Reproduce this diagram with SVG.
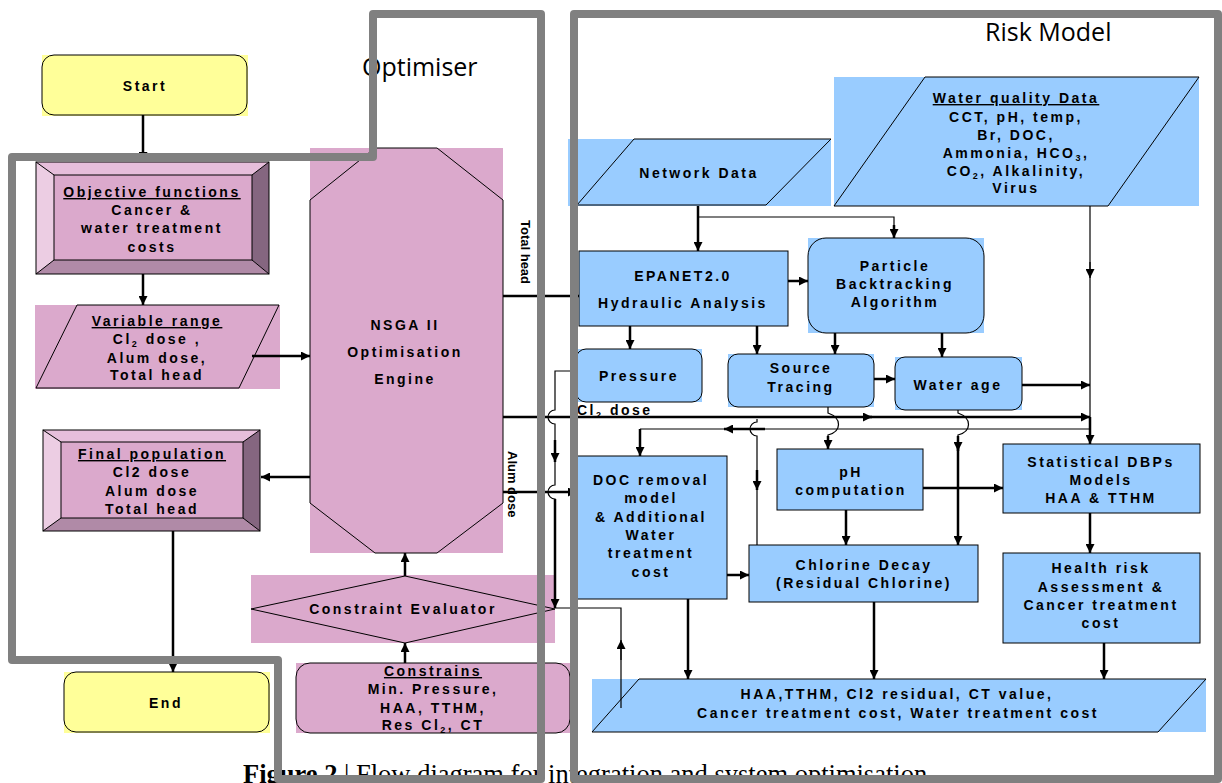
<svg xmlns="http://www.w3.org/2000/svg" width="1222" height="783" viewBox="0 0 1222 783">
<defs>
<marker id="a" viewBox="0 0 10 10" refX="10" refY="5" markerWidth="10" markerHeight="9" markerUnits="userSpaceOnUse" orient="auto"><path d="M0,0 L10,5 L0,10 Z" fill="#000"/></marker>
<marker id="s" viewBox="0 0 10 10" refX="10" refY="5" markerWidth="7" markerHeight="6" markerUnits="userSpaceOnUse" orient="auto"><path d="M0,0 L10,5 L0,10 Z" fill="#000"/></marker>
</defs>
<style>
.t{font-family:"Liberation Sans",Arial,sans-serif;font-weight:bold;font-size:14px;letter-spacing:2.5px;text-anchor:middle;fill:#000}
.u{text-decoration:underline}
.r{font-family:"Liberation Sans",Arial,sans-serif;font-weight:bold;font-size:13px;fill:#000}
.ttl{font-family:"Open Sans","Noto Sans",sans-serif;font-size:25px;fill:#000}
.pk{fill:#DBA9CC}
.bl{fill:#99CCFF}
.yl{fill:#FFFF99}
.ln{stroke:#000;stroke-width:1;}
.k{fill:none;stroke:#000;stroke-width:2.5}
.n{fill:none;stroke:#000;stroke-width:1.2}
.g{fill:none;stroke:#808080;stroke-width:8;stroke-linejoin:round}
</style>
<rect width="1222" height="783" fill="#fff"/>
<text x="243" y="783" font-family="Liberation Serif,serif" font-size="26.5" fill="#000"><tspan font-weight="bold">Figure 2</tspan> | Flow diagram for integration and system optimisation</text>
<text x="362" y="76" class="ttl" font-size="27">Optimiser</text>
<text x="985" y="41" class="ttl" font-size="25.5">Risk Model</text>

<g id="start">
<rect x="42" y="55" width="206" height="61" class="yl"/>
<rect x="42" y="55" width="205" height="60" rx="12" class="yl ln"/>
<text x="145" y="91" class="t">Start</text>
</g>
<g id="objective">
<rect x="36" y="162" width="233" height="112" class="pk"/>
<polygon points="36,162 269,162 252,175 54,175" fill="#E6BEDB"/>
<polygon points="36,162 54,175 54,260 36,274" fill="#ECCDE3"/>
<polygon points="269,162 269,274 252,260 252,175" fill="#856680"/>
<polygon points="36,274 54,260 252,260 269,274" fill="#B08AA7"/>
<rect x="36" y="162" width="233" height="112" fill="none" class="ln"/>
<rect x="54" y="175" width="198" height="85" class="pk ln"/>
<path d="M36 162L54 175M269 162L252 175M36 274L54 260M269 274L252 260" class="ln"/>
<text x="152" y="197" class="t u">Objective  functions</text>
<text x="152" y="215" class="t">Cancer &amp;</text>
<text x="152" y="233" class="t">water treatment</text>
<text x="152" y="252" class="t">costs</text>
</g>
<g id="variable">
<rect x="35" y="305" width="245" height="84" class="pk"/>
<polygon points="77,305 279,305 239,388 36,388" class="pk ln"/>
<text x="157" y="326" class="t u">Variable range</text>
<text x="157" y="344" class="t">Cl<tspan font-size="9" dy="3">2</tspan><tspan dy="-3"> dose ,</tspan></text>
<text x="157" y="363" class="t">Alum dose,</text>
<text x="157" y="380" class="t">Total head</text>
</g>
<g id="final">
<rect x="43" y="430" width="217" height="101" class="pk"/>
<polygon points="43,430 260,430 243,442 61,442" fill="#E6BEDB"/>
<polygon points="43,430 61,442 61,518 43,531" fill="#ECCDE3"/>
<polygon points="260,430 260,531 243,518 243,442" fill="#856680"/>
<polygon points="43,531 61,518 243,518 260,531" fill="#B08AA7"/>
<rect x="43" y="430" width="217" height="101" fill="none" class="ln"/>
<rect x="61" y="442" width="182" height="76" class="pk ln"/>
<path d="M43 430L61 442M260 430L243 442M43 531L61 518M260 531L243 518" class="ln"/>
<text x="152" y="459" class="t u">Final population</text>
<text x="152" y="477" class="t">Cl2 dose</text>
<text x="152" y="496" class="t">Alum dose</text>
<text x="152" y="514" class="t">Total head</text>
</g>
<g id="nsga">
<rect x="310" y="148" width="193" height="405" class="pk"/>
<polygon points="375,148 437,148 503,200 503,503 437,553 375,553 310,503 310,200" class="pk ln"/>
<text x="405" y="330" class="t">NSGA II</text>
<text x="405" y="357" class="t">Optimisation</text>
<text x="405" y="384" class="t">Engine</text>
</g>
<g id="constraint-evaluator">
<rect x="251" y="575" width="304" height="68" class="pk"/>
<polygon points="251,609 405,576 555,609 405,643" class="pk ln"/>
<text x="403" y="614" class="t">Constraint Evaluator</text>
</g>
<g id="constrains">
<rect x="296" y="663" width="274" height="70" class="pk"/>
<rect x="296" y="663" width="274" height="70" rx="14" class="pk ln"/>
<text x="433" y="676" class="t u">Constrains</text>
<text x="433" y="694" class="t">Min. Pressure,</text>
<text x="433" y="713" class="t">HAA, TTHM,</text>
<text x="433" y="730" class="t">Res Cl<tspan font-size="9" dy="3">2</tspan><tspan dy="-3">, CT</tspan></text>
</g>
<g id="end">
<rect x="64" y="672" width="206" height="61" class="yl"/>
<rect x="64" y="672" width="205" height="60" rx="12" class="yl ln"/>
<text x="166" y="708" class="t">End</text>
</g>

<g id="network-data">
<rect x="568" y="139" width="263" height="67" class="bl"/>
<polygon points="634,139 831,139 766,205 577,205" class="bl ln"/>
<text x="699" y="178" class="t">Network Data</text>
</g>
<g id="water-quality">
<rect x="834" y="77" width="365" height="129" class="bl"/>
<polygon points="925,77 1199,77 1108,206 834,206" class="bl ln"/>
<text x="1016" y="103" class="t u">Water quality Data</text>
<text x="1016" y="122" class="t">CCT, pH, temp,</text>
<text x="1016" y="140" class="t">Br, DOC,</text>
<text x="1016" y="158" class="t">Ammonia, HCO<tspan font-size="9" dy="3">3</tspan><tspan dy="-3">,</tspan></text>
<text x="1016" y="176" class="t">CO<tspan font-size="9" dy="3">2</tspan><tspan dy="-3">, Alkalinity,</tspan></text>
<text x="1016" y="193" class="t">Virus</text>
</g>
<g id="epanet">
<rect x="579" y="251" width="209" height="75" class="bl ln"/>
<text x="683" y="281" class="t">EPANET2.0</text>
<text x="683" y="308" class="t">Hydraulic Analysis</text>
</g>
<g id="particle">
<rect x="808" y="238" width="176" height="95" class="bl"/>
<rect x="808" y="238" width="176" height="95" rx="18" class="bl ln"/>
<text x="895" y="271" class="t">Particle</text>
<text x="895" y="289" class="t">Backtracking</text>
<text x="895" y="307" class="t">Algorithm</text>
</g>
<g id="pressure">
<rect x="576" y="349" width="126" height="53" class="bl"/>
<rect x="576" y="349" width="126" height="53" rx="10" class="bl ln"/>
<text x="639" y="381" class="t">Pressure</text>
</g>
<g id="source-tracing">
<rect x="728" y="354" width="146" height="53" class="bl"/>
<rect x="728" y="354" width="146" height="53" rx="10" class="bl ln"/>
<text x="801" y="373" class="t">Source</text>
<text x="801" y="392" class="t">Tracing</text>
</g>
<g id="water-age">
<rect x="895" y="357" width="127" height="53" class="bl"/>
<rect x="895" y="357" width="127" height="53" rx="10" class="bl ln"/>
<text x="958" y="390" class="t">Water age</text>
</g>
<g id="doc-removal">
<rect x="577" y="456" width="150" height="143" class="bl ln"/>
<text x="651" y="485" class="t">DOC removal</text>
<text x="651" y="503" class="t">model</text>
<text x="651" y="522" class="t">&amp; Additional</text>
<text x="651" y="540" class="t">Water</text>
<text x="651" y="558" class="t">treatment</text>
<text x="651" y="577" class="t">cost</text>
</g>
<g id="ph">
<rect x="777" y="449" width="146" height="61" class="bl ln"/>
<text x="851" y="477" class="t">pH</text>
<text x="851" y="495" class="t">computation</text>
</g>
<g id="chlorine-decay">
<rect x="749" y="545" width="229" height="57" class="bl ln"/>
<text x="864" y="570" class="t">Chlorine Decay</text>
<text x="864" y="588" class="t">(Residual Chlorine)</text>
</g>
<g id="statistical">
<rect x="1003" y="444" width="197" height="69" class="bl ln"/>
<text x="1101" y="467" class="t">Statistical DBPs</text>
<text x="1101" y="485" class="t">Models</text>
<text x="1101" y="503" class="t">HAA &amp; TTHM</text>
</g>
<g id="health">
<rect x="1003" y="553" width="197" height="90" class="bl ln"/>
<text x="1101" y="573" class="t">Health risk</text>
<text x="1101" y="592" class="t">Assessment &amp;</text>
<text x="1101" y="610" class="t">Cancer treatment</text>
<text x="1101" y="628" class="t">cost</text>
</g>
<g id="output">
<rect x="592" y="679" width="614" height="53" class="bl"/>
<polygon points="639,679 1206,679 1158,732 592,732" class="bl ln"/>
<text x="897" y="699" class="t">HAA,TTHM, Cl2 residual, CT value,</text>
<text x="898" y="718" class="t">Cancer treatment cost, Water treatment cost</text>
</g>

<g id="connectors">
<path d="M143 115V161" class="k" marker-end="url(#a)"/>
<path d="M143 274V305" class="k" marker-end="url(#a)"/>
<path d="M252 356H310" class="k" marker-end="url(#a)"/>
<path d="M310 477H261" class="k" marker-end="url(#a)"/>
<path d="M173 531V672" class="k" marker-end="url(#a)"/>
<path d="M405 576V553" class="k" marker-end="url(#a)"/>
<path d="M405 663V643" class="k" marker-end="url(#a)"/>
<path d="M503 296H579" class="k" marker-end="url(#s)"/>
<path d="M503 417H872" class="k" marker-end="url(#a)"/>
<path d="M866 417H1090" class="k" marker-end="url(#a)"/>
<path d="M503 492H577" class="k" marker-end="url(#a)"/>
<path d="M577 371H555V410A7 7 0 0 0 555 424V462" class="n"/>
<path d="M555 440V462" class="k" marker-end="url(#a)"/>
<path d="M555 462V485A7 7 0 0 0 555 499V590" class="n"/>
<path d="M555 499V608" class="k" marker-end="url(#a)"/>
<path d="M621 708V608H555" class="n"/>
<path d="M621 660V640" class="n" marker-end="url(#a)"/>
<path d="M698 206V251" class="k" marker-end="url(#a)"/>
<path d="M698 217H894V238" class="n"/>
<path d="M894 225V238" class="k" marker-end="url(#a)"/>
<path d="M788 281H808" class="k" marker-end="url(#a)"/>
<path d="M630 326V349" class="k" marker-end="url(#a)"/>
<path d="M757 326V354" class="k" marker-end="url(#a)"/>
<path d="M835 333V354" class="k" marker-end="url(#a)"/>
<path d="M942 333V357" class="k" marker-end="url(#a)"/>
<path d="M874 379H895" class="k" marker-end="url(#a)"/>
<path d="M1022 385H1090" class="k" marker-end="url(#a)"/>
<path d="M1090 206V417" class="n"/>
<path d="M1090 262V278" class="n" marker-end="url(#a)"/>
<path d="M1090 417V444" class="k" marker-end="url(#a)"/>
<path d="M1090 429H640" class="n"/>
<path d="M765 429H724" class="k" marker-end="url(#a)"/>
<path d="M640 429V456" class="k" marker-end="url(#a)"/>
<path d="M757 419V422A7 7 0 0 0 757 436V545" class="n"/>
<path d="M757 470V490" class="k" marker-end="url(#a)"/>
<path d="M828 407V413C842 418 842 431 828 435V440" class="n"/>
<path d="M828 436V449" class="k" marker-end="url(#a)"/>
<path d="M958 410V413C972 418 972 431 958 435V440" class="n"/>
<path d="M958 436V451" class="k" marker-end="url(#a)"/>
<path d="M958 445V545" class="k" marker-end="url(#a)"/>
<path d="M923 488H1003" class="k" marker-end="url(#a)"/>
<path d="M846 510V545" class="k" marker-end="url(#a)"/>
<path d="M727 575H749" class="k" marker-end="url(#a)"/>
<path d="M1090 513V553" class="k" marker-end="url(#a)"/>
<path d="M688 599V679" class="k" marker-end="url(#a)"/>
<path d="M874 602V679" class="k" marker-end="url(#a)"/>
<path d="M1104 643V679" class="k" marker-end="url(#a)"/>
</g>
<g id="labels">
<text x="577" y="415" class="t" style="text-anchor:start">Cl<tspan font-size="9" dy="3">2</tspan><tspan dy="-3"> dose</tspan></text>
<text transform="translate(521,220) rotate(90)" class="r">Total head</text>
<text transform="translate(508,451) rotate(90)" class="r">Alum dose</text>
</g>
<g id="frames">
<path d="M373 14H541V779H278V660H12V157H373Z" class="g"/>
<rect x="574" y="14" width="644" height="765" class="g"/>
</g>
</svg>
